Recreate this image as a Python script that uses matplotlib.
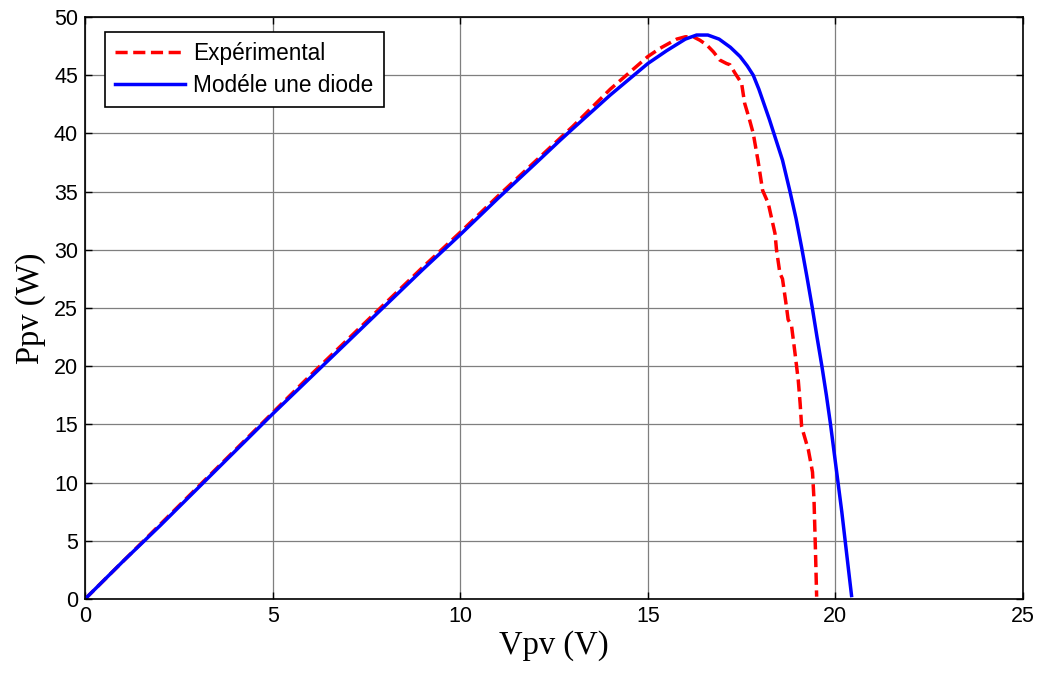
import matplotlib.pyplot as plt

# measured curves (V, W)
v_exp = [0.0, 0.5, 1.0, 2.0, 3.0, 4.0, 5.0, 6.0, 7.0, 8.0, 9.0, 10.0, 11.0, 12.0,
         13.0, 14.0, 15.0, 15.32, 15.77, 16.0, 16.21, 16.39, 16.57, 16.75, 16.92,
         17.1, 17.19, 17.32, 17.5, 17.58, 17.7, 17.81, 17.94, 18.06, 18.21,
         18.39, 18.43, 18.52, 18.59, 18.70, 18.74, 18.83, 18.92, 19.01,
         19.06, 19.1, 19.28, 19.39, 19.43, 19.47, 19.5]
p_exp = [0.0, 1.6, 3.2, 6.4, 9.6, 12.8, 16.0, 19.2, 22.3, 25.4, 28.5, 31.5, 34.6, 37.6,
         40.6, 43.8, 46.6, 47.3, 48.1, 48.3, 48.3, 48.0, 47.6, 47.0, 46.3,
         46.0, 45.9, 45.2, 44.3, 42.6, 41.3, 40.0, 37.6, 35.1, 34.0,
         31.4, 30.0, 28.0, 27.5, 25.0, 24.0, 23.5, 21.2, 18.8,
         16.8, 14.8, 12.8, 10.9, 8.5, 4.0, 0.2]

v_model = [0.0, 0.5, 1.0, 2.0, 3.0, 4.0, 5.0, 6.0, 7.0, 8.0, 9.0, 10.0, 11.0, 12.0,
           12.66, 13.0, 14.0, 15.0, 15.5, 16.0, 16.3, 16.6, 16.9, 17.2, 17.46,
           17.65, 17.81, 17.96, 18.1, 18.24, 18.37, 18.59, 18.79, 18.95, 19.1,
           19.24, 19.38, 19.51, 19.64, 19.76, 19.87, 19.97, 20.07, 20.17, 20.26,
           20.35, 20.43]
p_model = [0.0, 1.6, 3.2, 6.3, 9.5, 12.7, 15.9, 19.0, 22.1, 25.2, 28.3, 31.3, 34.4, 37.4,
           39.4, 40.4, 43.3, 46.0, 47.1, 48.1, 48.45, 48.45, 48.1, 47.4, 46.6,
           45.8, 45.0, 43.8, 42.5, 41.2, 39.9, 37.7, 35.0, 32.7, 30.2,
           27.7, 25.1, 22.5, 20.0, 17.5, 15.0, 12.5, 10.0, 7.5, 5.0,
           2.5, 0.3]

xticks = [0, 5, 10, 15, 20, 25]
yticks = [0, 5, 10, 15, 20, 25, 30, 35, 40, 45, 50]

plt.rcParams['font.family'] = ['Liberation Sans', 'DejaVu Sans']

fig = plt.figure(figsize=(10.41, 6.77), dpi=100)
ax = fig.add_axes([0.0817, 0.1152, 0.901, 0.8597])

ax.plot(v_exp, p_exp, color='red', linestyle='--', dashes=(3.5, 1.6),
        linewidth=2.5, label='Expérimental')
ax.plot(v_model, p_model, color='blue', linewidth=2.5, label='Modéle une diode')

ax.set_xlim(0, 25)
ax.set_ylim(0, 50)
ax.set_xticks(xticks)
ax.set_yticks(yticks)
ax.grid(True, color='#7f7f7f', linewidth=0.9)
ax.tick_params(direction='in', top=True, right=True, labelsize=15.5, length=5,
               width=1, colors='black', pad=5)
for s in ax.spines.values():
    s.set_linewidth(1.2)

ax.set_xlabel('Vpv (V)', family='Liberation Serif', fontsize=23.5, labelpad=2)
ax.set_ylabel('Ppv (W)', family='Liberation Serif', fontsize=23.5, labelpad=6)

leg = ax.legend(loc='upper left', fontsize=16.3, fancybox=False, framealpha=1,
                edgecolor='black', handlelength=3.1, handletextpad=0.35,
                labelspacing=0.4, borderpad=0.45, borderaxespad=0,
                bbox_to_anchor=(0.0213, 0.975))
leg.get_frame().set_linewidth(1.2)

fig.savefig('out.png', dpi=100)
